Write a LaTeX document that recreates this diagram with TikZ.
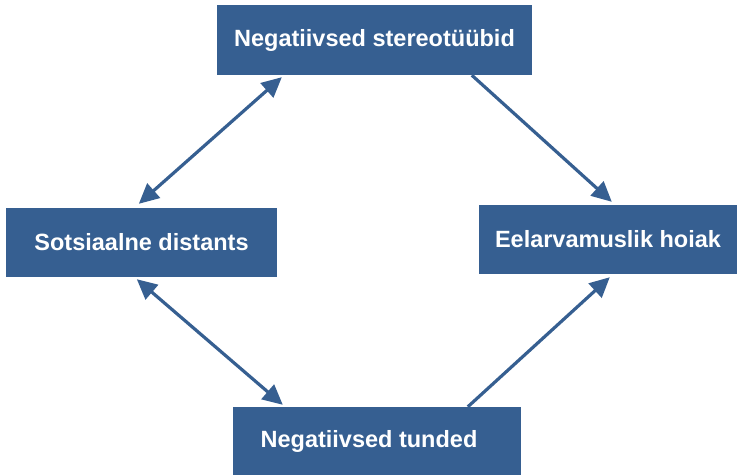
\documentclass[tikz,border=0pt]{standalone}
\usepackage{fontspec}
\setmainfont{Liberation Sans}
\usepackage{tikz}
\usetikzlibrary{arrows.meta}
\definecolor{boxblue}{HTML}{365F91}

\begin{document}
\begin{tikzpicture}[
    x=1pt, y=-1pt,
    font=\fontsize{23.5}{28}\selectfont\bfseries,
    block/.style={rectangle,fill=boxblue,text=white,inner sep=0pt,align=center},
    arrow/.style={-{Triangle[length=20pt,width=19pt]},line width=3.2pt,draw=boxblue},
    twoway/.style={{Triangle[length=20pt,width=19pt]}-{Triangle[length=20pt,width=19pt]},line width=3.2pt,draw=boxblue}
]
\useasboundingbox (0,0) rectangle (738,475);

\node[block,minimum width=315pt,minimum height=70pt] (stereo) at (374.5,40) {Negatiivsed stereotüübid};
\node[block,minimum width=271pt,minimum height=69pt] (distants) at (141.5,242.5) {Sotsiaalne distants};
\node[block,minimum width=258pt,minimum height=69pt] (hoiak) at (608,239.5) {Eelarvamuslik hoiak};
\node[block,minimum width=288pt,minimum height=68pt] (tunded) at (377,441) {Negatiivsed tunded\hspace*{16pt}};

\draw[twoway] ([xshift=65pt,yshift=-2pt]stereo.south west) -- ([xshift=133pt,yshift=4pt]distants.north west);
\draw[arrow] ([xshift=255pt]stereo.south west) -- ([xshift=133pt,yshift=3pt]hoiak.north west);
\draw[twoway] ([xshift=131pt,yshift=-2pt]distants.south west) -- ([xshift=50pt,yshift=2pt]tunded.north west);
\draw[arrow] ([xshift=235pt]tunded.north west) -- ([xshift=131pt,yshift=-3pt]hoiak.south west);
\end{tikzpicture}
\end{document}
